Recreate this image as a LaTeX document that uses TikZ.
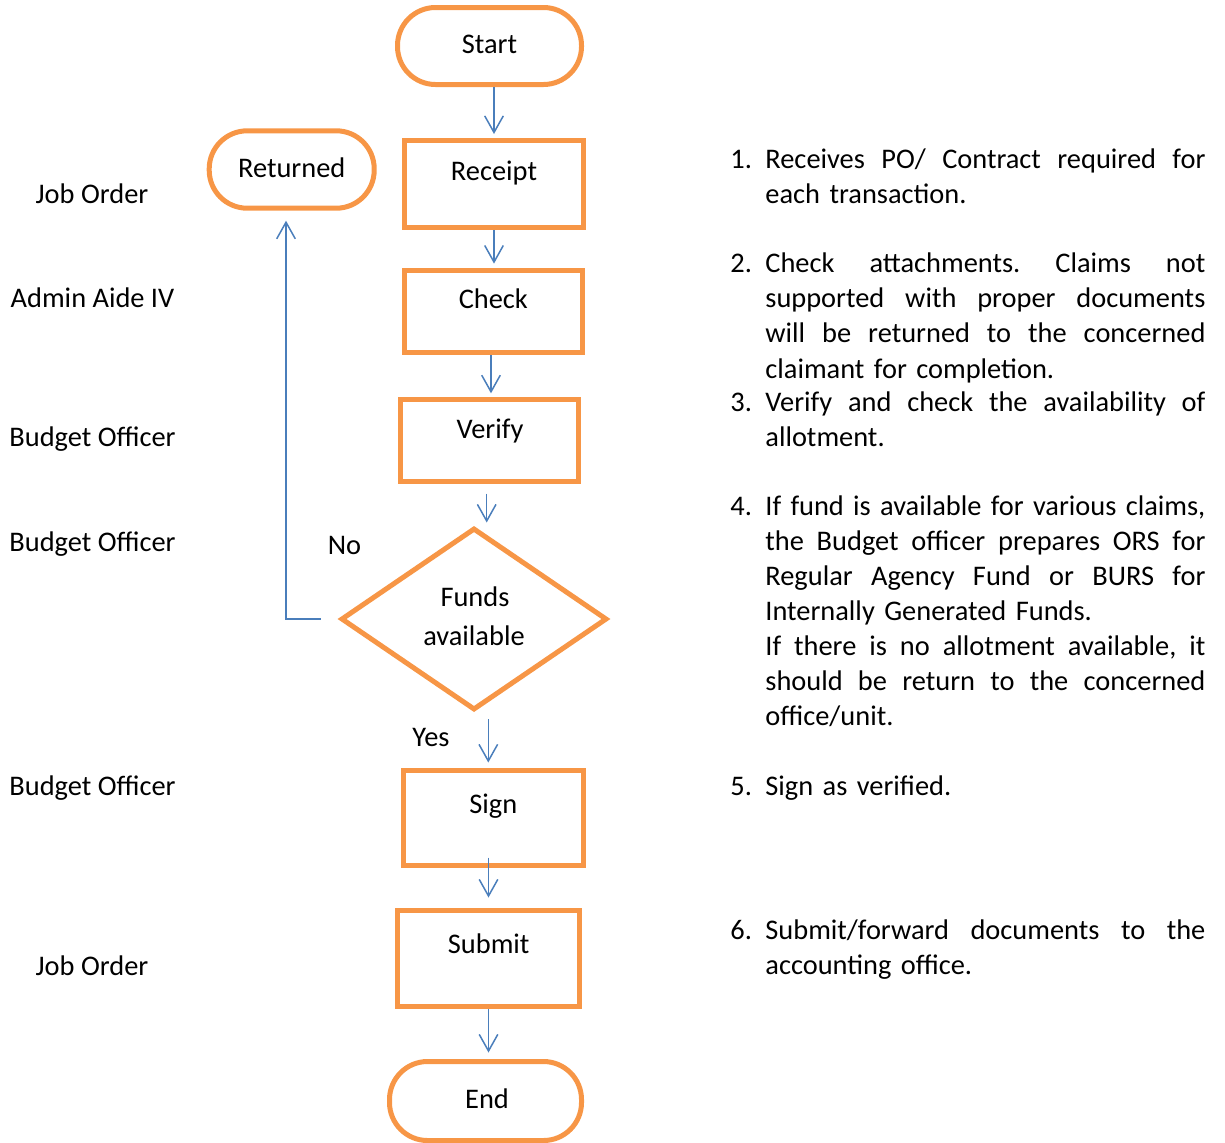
\documentclass[tikz,border=0pt]{standalone}
\usepackage{fontspec}
\setmainfont{Carlito}
\usetikzlibrary{arrows.meta,shapes.geometric,calc}
\definecolor{boxorange}{HTML}{F79646}
\definecolor{lineblue}{HTML}{4A7EBB}
\newcommand\fullline[1]{{\frenchspacing\spaceskip=0pt\xspaceskip=0pt\makebox[220pt][s]{#1}}}
\begin{document}
\begin{tikzpicture}[x=0.5pt,y=-0.5pt,
  font=\fontsize{14.2pt}{17.55pt}\selectfont,
  box/.style={draw=boxorange,line width=2.5pt,inner sep=0pt,rectangle},
  term/.style={box,rounded corners=19pt},
  dec/.style={draw=boxorange,line width=2.5pt,diamond,inner sep=0pt},
  txt/.style={inner sep=0pt,anchor=base},
  conn/.style={draw=lineblue,line width=0.75pt,-{Straight Barb[length=8.3pt,width=9.3pt]}},
  desc/.style={inner sep=0pt,anchor=base west,text width=220pt,align=left},
  num/.style={inner sep=0pt,anchor=base west},
]
\useasboundingbox (0,0) rectangle (1225,1142);

% flowchart shapes
\node[term, minimum width=92pt, minimum height=38.5pt] (start) at (489.5,46) {};
\node[txt] (tstart) at (489.5,53.3) {Start};
\node[box, minimum width=89.5pt, minimum height=43.5pt] (receipt) at (494,184) {};
\node[txt] (treceipt) at (494,180) {Receipt};
\node[box, minimum width=88.9pt, minimum height=41.2pt] (check) at (493.7,311.3) {};
\node[txt] (tcheck) at (493.3,308.3) {Check};
\node[box, minimum width=88.9pt, minimum height=41pt] (verify) at (489.7,440.8) {};
\node[txt] (tverify) at (490,438.3) {Verify};
\node[dec, minimum width=133pt, minimum height=91pt] (fund) at (474,619) {};
\node[txt] (tfund1) at (475,606.7) {Funds};
\node[txt] (tfund2) at (474,645.7) {available};
\node[box, minimum width=90pt, minimum height=47.5pt] (sign) at (493.5,818.3) {};
\node[txt] (tsign) at (493.3,813.3) {Sign};
\node[box, minimum width=91pt, minimum height=48pt] (submit) at (488.5,958.5) {};
\node[txt] (tsubmit) at (488.7,953) {Submit};
\node[term, minimum width=96pt, minimum height=39.5pt] (end) at (485.5,1101) {};
\node[txt] (tend) at (487,1108) {End};
\node[term, minimum width=82.5pt, minimum height=38.7pt] (returned) at (291.7,169.5) {};
\node[txt] (treturned) at (291.7,177.3) {Returned};

% connectors
\draw[conn, shorten >=2pt] (receipt.north |- start.south) -- (receipt.north);
\draw[conn, shorten >=2pt] (receipt.south) -- (receipt.south |- check.north);
\coordinate (c3) at ([xshift=-1.35pt]check.south);
\draw[conn, shorten >=2pt] (c3) -- (c3 |- verify.north);
\coordinate (c4) at ([xshift=-1.5pt]verify.south);
\draw[conn, shorten <=4.7pt, shorten >=1.5pt] (c4) -- (c4 |- fund.north);
\coordinate (c5) at ([xshift=-2.6pt]sign.north);
\draw[conn, shorten <=3.35pt, shorten >=2.9pt] (c5 |- fund.south) -- (c5);
\coordinate (c6) at ([yshift=5.4pt]sign.south);
\draw[conn, shorten >=5.25pt] (c6 -| submit.north) -- (submit.north);
\draw[conn, shorten >=3.25pt] (submit.south) -- (submit.south |- end.north);
\coordinate (c8) at ([xshift=-8.85pt]fund.west);
\coordinate (c9) at ([xshift=-2.85pt]returned.south);
\draw[conn, shorten >=5pt] (c8) -| (c9);

% branch labels
\node[txt] (lno) at (344.5,554) {No};
\node[txt] (lyes) at (431,746) {Yes};

% role labels
\node[txt] (r1) at (92,203) {Job Order};
\node[txt] (r2) at (92.5,307.3) {Admin Aide IV};
\node[txt] (r3) at (92.5,446.7) {Budget Officer};
\node[txt] (r4) at (92.5,551.7) {Budget Officer};
\node[txt] (r5) at (92.5,795.7) {Budget Officer};
\node[txt] (r6) at (92,975) {Job Order};

% descriptions
\node[num] (n1) at (730,168) {1.};
\node[desc] (d1) at (765,168) {\fullline{Receives PO/ Contract required for}\\each transaction.};
\node[num] (n2) at (730,272.7) {2.};
\node[desc] (d2) at (765,272.7) {\fullline{Check attachments. Claims not}\\\fullline{supported with proper documents}\\\fullline{will be returned to the concerned}\\claimant for completion.};
\node[num] (n3) at (730,411.7) {3.};
\node[desc] (d3) at (765,411.7) {\fullline{Verify and check the availability of}\\allotment.};
\node[num] (n4) at (730,515) {4.};
\node[desc] (d4) at (765,515) {\fullline{If fund is available for various claims,}\\\fullline{the Budget officer prepares ORS for}\\\fullline{Regular Agency Fund or BURS for}\\Internally Generated Funds.\\\fullline{If there is no allotment available, it}\\\fullline{should be return to the concerned}\\office/unit.};
\node[num] (n5) at (730,795) {5.};
\node[desc] (d5) at (765,795) {Sign as verified.};
\node[num] (n6) at (730,939.3) {6.};
\node[desc] (d6) at (765,939.3) {\fullline{Submit/forward documents to the}\\accounting office.};
\end{tikzpicture}
\end{document}
